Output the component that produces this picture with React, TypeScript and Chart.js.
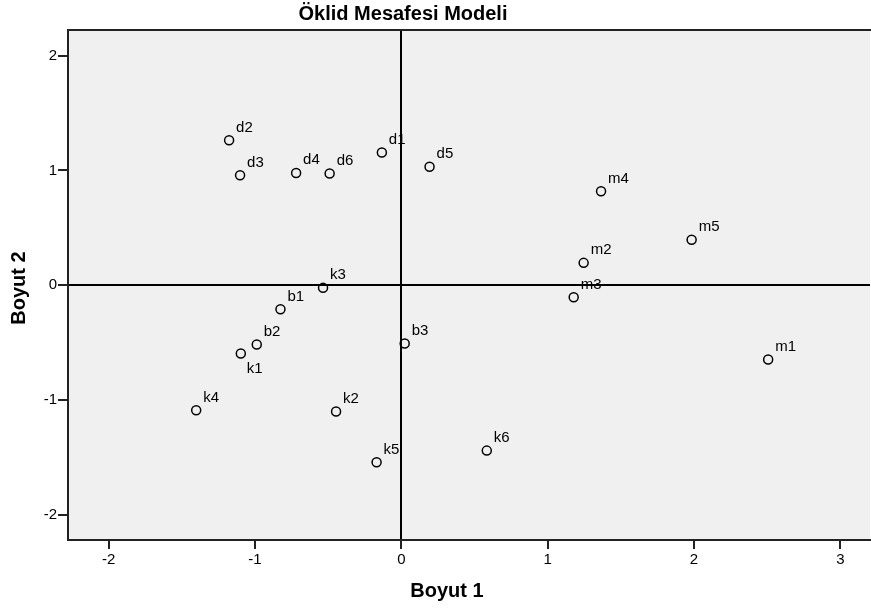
import React, { useEffect, useRef } from "react";
import { Chart, registerables } from "chart.js";

Chart.register(...registerables);

const pointNames = ["d1", "d2", "d3", "d4", "d5", "d6", "m1", "m2", "m3", "m4", "m5", "k1", "k2", "k3", "k4", "k5", "k6", "b1", "b2", "b3"];
const dim1 = [-0.133, -1.177, -1.102, -0.719, 0.193, -0.49, 2.507, 1.246, 1.178, 1.365, 1.984, -1.097, -0.446, -0.535, -1.402, -0.169, 0.584, -0.826, -0.988, 0.023];
const dim2 = [1.156, 1.264, 0.959, 0.978, 1.032, 0.974, -0.647, 0.195, -0.105, 0.819, 0.396, -0.595, -1.101, -0.023, -1.089, -1.542, -1.441, -0.209, -0.517, -0.508];
const labelsBelow = ["k1"];
const xTicks = [-2, -1, 0, 1, 2, 3];
const yTicks = [-2, -1, 0, 1, 2];
const chartTitle = "Öklid Mesafesi Modeli";
const xTitle = "Boyut 1";
const yTitle = "Boyut 2";

const FONT = "'Liberation Sans', Arial, sans-serif";
const CANVAS_W = 876;

export default function App() {
  const ref = useRef<HTMLCanvasElement | null>(null);
  useEffect(() => {
    if (!ref.current) return;
    const decor = {
      id: "decor",
      beforeDraw(chart: any) {
        const { ctx, chartArea } = chart;
        ctx.save();
        ctx.fillStyle = "#f0f0f0";
        ctx.fillRect(chartArea.left, chartArea.top, chartArea.right - chartArea.left, chartArea.bottom - chartArea.top);
        ctx.restore();
      },
      afterDatasetsDraw(chart: any) {
        const { ctx, chartArea } = chart;
        ctx.save();
        // top border
        ctx.strokeStyle = "#222";
        ctx.lineWidth = 2;
        ctx.beginPath();
        ctx.moveTo(chartArea.left, chartArea.top);
        ctx.lineTo(chartArea.right + 10, chartArea.top);
        ctx.stroke();
        // point labels
        ctx.fillStyle = "#000";
        ctx.font = "15px " + FONT;
        ctx.textAlign = "left";
        ctx.textBaseline = "alphabetic";
        const meta = chart.getDatasetMeta(0);
        meta.data.forEach((el: any, i: number) => {
          const name = pointNames[i];
          if (labelsBelow.includes(name)) {
            ctx.fillText(name, el.x + 6, el.y + 19);
          } else {
            ctx.fillText(name, el.x + 7, el.y - 8.5);
          }
        });
        // titles
        ctx.font = "bold 20px " + FONT;
        ctx.textAlign = "center";
        ctx.textBaseline = "middle";
        ctx.fillText(chartTitle, 403, 14);
        ctx.fillText(xTitle, 447, 591);
        ctx.translate(19, 288);
        ctx.rotate(-Math.PI / 2);
        ctx.fillText(yTitle, 0, 0);
        ctx.restore();
      },
    };
    const chart = new Chart(ref.current, {
      type: "scatter",
      data: {
        datasets: [
          {
            data: dim1.map((x, i) => ({ x, y: dim2[i] })),
            pointStyle: "circle",
            pointRadius: 4.5,
            pointBackgroundColor: "rgba(0,0,0,0)",
            pointBorderColor: "#000",
            pointBorderWidth: 1.5,
            showLine: false,
          },
        ],
      },
      options: {
        animation: false,
        responsive: false,
        maintainAspectRatio: false,
        layout: { padding: { top: 30, left: 0, right: 0, bottom: 0 } },
        plugins: { legend: { display: false }, tooltip: { enabled: false }, title: { display: false } },
        scales: {
          x: {
            type: "linear",
            min: -2.278,
            max: 3.203,
            afterBuildTicks: (s: any) => { s.ticks = xTicks.map((v) => ({ value: v })); },
            afterFit: (s: any) => { s.height = 68; },
            border: { display: true, color: "#222", width: 2 },
            grid: {
              drawOnChartArea: true,
              drawTicks: true,
              tickLength: 9,
              tickWidth: 2,
              tickColor: "#222",
              lineWidth: 2,
              color: (c: any) => (c.tick && c.tick.value === 0 ? "#000" : "rgba(0,0,0,0)"),
            },
            ticks: { color: "#000", font: { family: FONT, size: 15 }, padding: 2, maxRotation: 0, autoSkip: false, callback: (v: any) => String(v) },
          },
          y: {
            type: "linear",
            min: -2.22,
            max: 2.224,
            afterBuildTicks: (s: any) => { s.ticks = yTicks.map((v) => ({ value: v })); },
            afterFit: (s: any) => { s.width = 68; },
            border: { display: true, color: "#222", width: 2 },
            grid: {
              drawOnChartArea: true,
              drawTicks: true,
              tickLength: 10,
              tickWidth: 2,
              tickColor: "#222",
              lineWidth: 2,
              color: (c: any) => (c.tick && c.tick.value === 0 ? "#000" : "rgba(0,0,0,0)"),
            },
            ticks: { color: "#000", font: { family: FONT, size: 15 }, padding: 1, autoSkip: false, callback: (v: any) => String(v) },
          },
        },
      },
      plugins: [decor],
    } as any);
    return () => chart.destroy();
  }, []);
  return (
    <div style={{ position: "fixed", left: 0, top: 0, width: 871, height: 608, background: "#fff", overflow: "hidden" }}>
      <canvas ref={ref} width={CANVAS_W} height={608} style={{ width: CANVAS_W, height: 608, display: "block" }} />
    </div>
  );
}
